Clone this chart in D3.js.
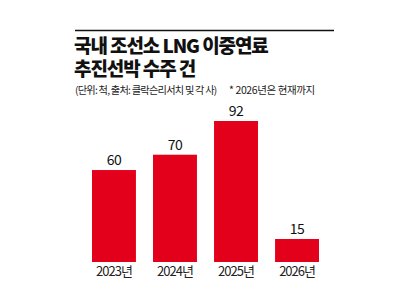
<!DOCTYPE html>
<html>
<head>
<meta charset="utf-8">
<script src="https://cdn.jsdelivr.net/npm/d3@7"></script>
<style>
  body { margin: 0; background: #fff; }
  text { font-family: "Noto Sans CJK KR", "Noto Sans", sans-serif; }
</style>
</head>
<body>
<div id="chart"></div>
<script>
// 연도별 수주 척수
var years = ["2023년", "2024년", "2025년", "2026년"];
var counts = [60, 70, 92, 15];
var titleLines = ["국내 조선소 LNG 이중연료", "추진선박 수주 건"];
var note = "(단위: 척, 출처: 클락슨리서치 및 각 사)";
var note2 = "* 2026년은 현재까지";

var W = 410, H = 290;

var svg = d3.select("#chart").append("svg")
    .attr("width", W)
    .attr("height", H);

svg.append("rect")
    .attr("width", W).attr("height", H)
    .attr("fill", "#fff");

// 상단 선
svg.append("line")
    .attr("x1", 75).attr("x2", 334)
    .attr("y1", 30.5).attr("y2", 30.5)
    .attr("stroke", "#111")
    .attr("stroke-width", 1.5);

// 제목
svg.selectAll("text.title")
    .data(titleLines)
    .enter()
    .append("text")
    .attr("class", "title")
    .attr("x", 74)
    .attr("y", function(d, i) { return 53 + i * 23; })
    .attr("font-size", 19)
    .attr("font-weight", 900)
    .attr("letter-spacing", -1.1)
    .attr("fill", "#111")
    .text(function(d) { return d; });

svg.append("text")
    .attr("x", 75).attr("y", 94)
    .attr("font-size", 10.2)
    .attr("letter-spacing", -0.75)
    .attr("fill", "#222")
    .text(note);

svg.append("text")
    .attr("x", 229).attr("y", 94)
    .attr("font-size", 10.5)
    .attr("letter-spacing", -0.4)
    .attr("fill", "#222")
    .text(note2);

// 스케일
var x = d3.scaleBand()
    .domain(years)
    .range([92, 319])
    .paddingInner(0.28)
    .paddingOuter(0);

var y = d3.scaleLinear()
    .domain([0, 92])
    .range([262, 121]);

svg.selectAll("rect.bar")
    .data(counts)
    .enter()
    .append("rect")
    .attr("class", "bar")
    .attr("x", function(d, i) { return x(years[i]); })
    .attr("y", function(d) { return y(d); })
    .attr("width", x.bandwidth())
    .attr("height", function(d) { return y(0) - y(d); })
    .attr("fill", "#e3001b");

svg.selectAll("text.val")
    .data(counts)
    .enter()
    .append("text")
    .attr("class", "val")
    .attr("x", function(d, i) { return x(years[i]) + x.bandwidth() / 2; })
    .attr("y", function(d) { return y(d) - 5; })
    .attr("text-anchor", "middle")
    .attr("font-size", 14)
    .attr("letter-spacing", -0.5)
    .attr("fill", "#111")
    .text(function(d) { return d; });

// x축 라벨
var xAxis = svg.append("g")
    .attr("transform", "translate(0," + y(0) + ")")
    .call(d3.axisBottom(x).tickSize(0).tickPadding(5));
xAxis.select(".domain").remove();
xAxis.selectAll("text")
    .attr("font-size", 13)
    .attr("letter-spacing", -1)
    .attr("fill", "#222")
    .style("font-family", "'Noto Sans CJK KR', sans-serif");
</script>
</body>
</html>
